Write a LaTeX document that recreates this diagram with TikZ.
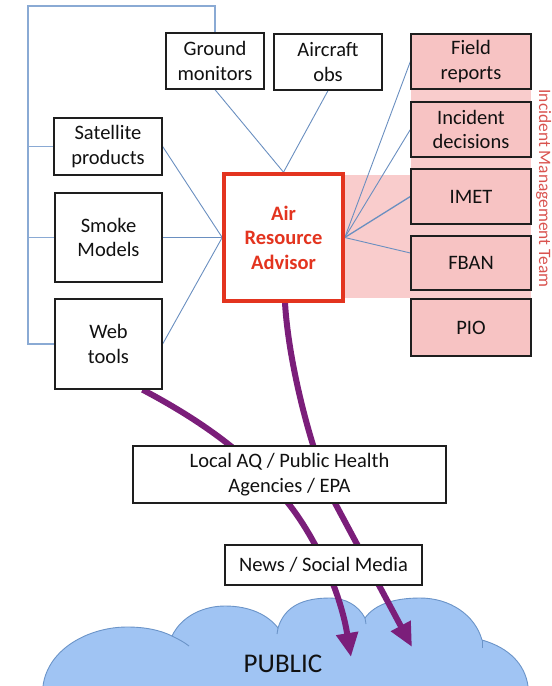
\documentclass[tikz,border=0pt]{standalone}
\usepackage{fontspec}
\setmainfont{Carlito}
\usetikzlibrary{arrows.meta}
\pgfdeclarelayer{bg}
\pgfdeclarelayer{mid}
\pgfsetlayers{bg,mid,main}
\definecolor{boxborder}{HTML}{1E1E1E}
\definecolor{textcol}{HTML}{111111}
\definecolor{imtpink}{HTML}{F7C3C3}
\definecolor{bandpink}{HTML}{F9CCCC}
\definecolor{linkblue}{HTML}{6A8FC0}
\definecolor{bracketblue}{HTML}{8AAAD4}
\definecolor{arared}{HTML}{E3341F}
\definecolor{imtred}{HTML}{D9534F}
\definecolor{purp}{HTML}{7B1E7A}
\definecolor{cloudfill}{HTML}{A0C4F3}
\definecolor{cloudline}{HTML}{6B94C8}
\begin{document}
\begin{tikzpicture}[x=1pt,y=-1pt,
  box/.style={draw=boxborder, line width=1.3pt, fill=white, inner sep=0pt,
    align=center, text=textcol, font=\fontsize{20.5}{24.5}\selectfont},
  imtbox/.style={box, fill=imtpink, minimum width=120pt},
  arabox/.style={draw=arared, line width=3.6pt, fill=white, inner sep=0pt,
    align=center, text=arared, font=\fontsize{20.5}{24.5}\selectfont\bfseries},
  link/.style={draw=linkblue, line width=0.9pt},
  bracket/.style={draw=bracketblue, line width=1.1pt},
  flow/.style={draw=purp, line width=6pt, -{Triangle[length=24pt,width=21pt]}},
  imtlabel/.style={text=imtred, inner sep=0pt, font=\fontsize{17.4}{20}\selectfont},
  publabel/.style={text=textcol, inner sep=0pt, font=\fontsize{27}{30}\selectfont},
  cloudshape/.style={fill=cloudfill, draw=cloudline, line width=0.9pt},
  cloudedge/.style={draw=cloudline, line width=0.9pt}
]
\useasboundingbox (0,0) rectangle (552,686);

% ---------- nodes ----------
\node[box, minimum width=98pt, minimum height=56pt] (ground) at (215,61) {Ground\\monitors};
\node[box, minimum width=108pt, minimum height=56pt] (aircraft) at (328,62) {Aircraft\\obs};
\node[box, minimum width=108pt, minimum height=57pt] (sat) at (108,146.5) {Satellite\\products};
\node[box, minimum width=107pt, minimum height=89pt] (smoke) at (108.5,237.5) {Smoke\\Models};
\node[box, minimum width=107pt, minimum height=90pt] (web) at (108.5,344) {Web\\tools};
\node[arabox, minimum width=119pt, minimum height=127pt] (ara) at (283.5,237.5) {Air\\Resource\\Advisor};

\node[imtbox, minimum height=55pt] (field) at (471,61.5) {Field\\reports};
\node[imtbox, minimum height=55pt] (incident) at (471,129.5) {Incident\\decisions};
\node[imtbox, minimum height=55pt] (imet) at (471,196.5) {IMET};
\node[imtbox, minimum height=54pt] (fban) at (471,263) {FBAN};
\node[imtbox, minimum height=57pt] (pio) at (471,327.5) {PIO};
\node[imtlabel, rotate=-90, anchor=base] (imtlab) at (539,188.5) {Incident Management Team};

\node[box, minimum width=313pt, minimum height=57pt] (localaq) at (289.5,474.5) {Local AQ / Public Health\\Agencies / EPA};
\node[box, minimum width=197pt, minimum height=40pt] (news) at (323.5,565) {News / Social Media};

\node[publabel] (public) at (283,664) {PUBLIC};

\coordinate (tl) at (28,6);
\coordinate (tipL) at (351,657);
\coordinate (tipR) at (412,647);

% ---------- background ----------
\begin{pgfonlayer}{bg}
  \fill[bandpink] (343,175) rectangle (531,298);
  \fill[bandpink] (411,34) rectangle (531,356);
  \path[cloudshape] (43,700) -- (43,686)
    .. controls (48,648) and (90,627) .. (127,627)
    .. controls (145,627) and (160,630) .. (172,636)
    .. controls (182,615) and (205,606) .. (225,606)
    .. controls (250,606) and (268,615) .. (278,628)
    .. controls (285,605) and (305,598) .. (330,598)
    .. controls (345,598) and (358,605) .. (365,618)
    .. controls (375,604) and (395,598) .. (420,598)
    .. controls (450,598) and (475,615) .. (482,640)
    .. controls (510,648) and (525,665) .. (528,686)
    -- (528,700) -- cycle;
  \draw[cloudedge] (172,636) .. controls (178,639) and (184,642) .. (189,646);
  \draw[cloudedge] (278,628) -- (277,634);
  \draw[cloudedge] (365,618) -- (366,624);
  \draw[cloudedge] (482,640) -- (482,648);
\end{pgfonlayer}

% ---------- connectors ----------
\begin{pgfonlayer}{mid}
  \draw[bracket] (ground.north) |- (tl) |- (web.west);
  \draw[bracket] (sat.west) -- (sat.west -| tl);
  \draw[bracket] (smoke.west) -- (smoke.west -| tl);

  \draw[link] (ara.west) -- (sat.east);
  \draw[link] (ara.west) -- (smoke.east);
  \draw[link] (ara.west) -- (web.east);
  \draw[link] (ara.north) -- (ground.south);
  \draw[link] (ara.north) -- (aircraft.south);
  \draw[link] (ara.east) -- (field.west);
  \draw[link] (ara.east) -- (incident.west);
  \draw[link, line width=1.3pt] (ara.east) -- (imet.west);
  \draw[link] (ara.east) -- ([yshift=10pt]fban.west);

  \draw[flow] ([xshift=34pt]web.south) .. controls (200,420) and (250,455) .. (288,503)
    .. controls (315,537) and (340,590) .. (tipL);
  \draw[flow] ([xshift=1.5pt]ara.south) .. controls (289,370) and (315,463) .. (335,503) -- (tipR);
\end{pgfonlayer}
\end{tikzpicture}
\end{document}
